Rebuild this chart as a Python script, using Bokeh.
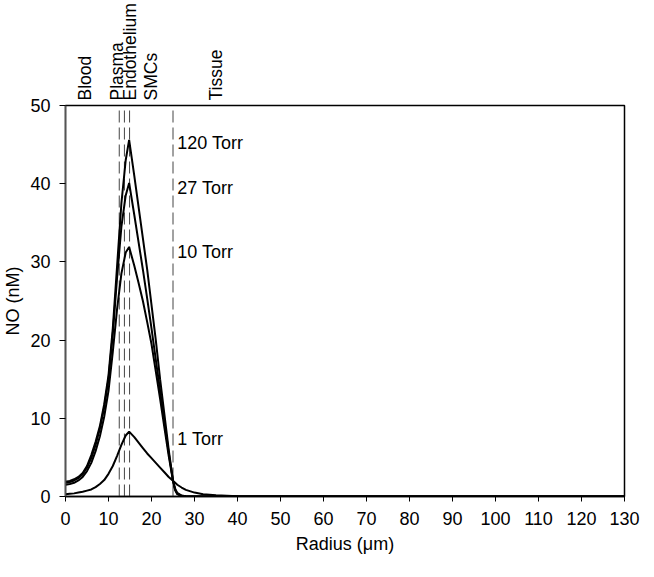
import math
from bokeh.plotting import figure
from bokeh.models import Range1d, FixedTicker, LinearAxis, AllLabels
from bokeh.core.properties import value
from bokeh.embed import file_html
from bokeh.resources import INLINE

# ---- data ----
radius = [0, 1, 2, 3, 4, 5, 6, 7, 8, 9, 10, 11, 12, 13, 14, 14.8,
          16, 17, 18, 19, 20, 21, 22, 23, 24, 25,
          25.5, 26, 27, 28, 30, 32, 35, 40, 45, 130]
no_120 = [1.9, 2.0, 2.2, 2.5, 3.0, 3.9, 5.3, 7.0, 9.0, 11.8, 15.5, 21.5, 29.5, 37.5, 43.0, 45.6,
          41.0, 37.0, 33.0, 29.0, 24.5, 20.0, 15.0, 10.5, 6.0, 2.0,
          0.8, 0.3, 0.05, 0.02, 0, 0, 0, 0, 0, 0]
no_27 = [1.75, 1.85, 2.05, 2.35, 2.85, 3.7, 4.9, 6.6, 8.7, 11.4, 15.0, 20.8, 28.0, 34.5, 38.5, 40.1,
         36.0, 32.5, 29.0, 25.3, 21.5, 17.5, 13.5, 9.5, 5.6, 2.0,
         0.85, 0.35, 0.07, 0.02, 0, 0, 0, 0, 0, 0]
no_10 = [1.5, 1.6, 1.75, 2.05, 2.5, 3.25, 4.3, 5.8, 7.7, 10.2, 13.5, 18.5, 24.0, 28.5, 31.2, 31.9,
         29.5, 27.3, 25.0, 22.3, 19.5, 16.0, 12.5, 8.8, 5.2, 2.0,
         1.0, 0.45, 0.12, 0.03, 0, 0, 0, 0, 0, 0]
no_1 = [0.3, 0.35, 0.4, 0.5, 0.6, 0.75, 0.9, 1.2, 1.6, 2.1, 2.9, 3.9, 5.2, 6.6, 7.8, 8.3,
        7.6, 6.9, 6.2, 5.5, 4.9, 4.3, 3.7, 3.1, 2.5, 2.0,
        1.75, 1.5, 1.15, 0.85, 0.5, 0.3, 0.15, 0.03, 0, 0]
series = [no_120, no_27, no_10, no_1]

curve_labels = ["120 Torr", "27 Torr", "10 Torr", "1 Torr"]
curve_label_x = [26.0, 26.0, 26.0, 26.0]
curve_label_y = [45.2, 39.5, 31.3, 7.4]

boundaries = [12.5, 13.7, 14.9, 25.0]

zone_names = ["Blood", "Plasma", "Endothelium", "SMCs", "Tissue"]
zone_x = [4.6, 12.0, 15.0, 19.9, 35.1]

x_ticks = list(range(0, 131, 10))
y_ticks = list(range(0, 51, 10))

FONT = "Liberation Sans"

p = figure(width=640, height=561, output_backend="svg", toolbar_location=None,
           x_range=Range1d(0, 130), y_range=Range1d(0, 50),
           min_border_left=61, min_border_right=16, min_border_top=104,
           min_border_bottom=65)
p.background_fill_color = "white"
p.border_fill_color = "white"
p.outline_line_color = "black"
p.outline_line_width = 1.5
p.xgrid.visible = False
p.ygrid.visible = False

for ax, ticks in ((p.xaxis, x_ticks), (p.yaxis, y_ticks)):
    ax.ticker = FixedTicker(ticks=ticks)
    ax.minor_tick_line_color = None
    ax.major_tick_in = 0
    ax.major_tick_out = 6
    ax.major_tick_line_color = "black"
    ax.axis_line_color = "black"
    ax.axis_line_width = 1.5
    ax.major_label_text_font = FONT
    ax.major_label_text_font_size = "18px"
    ax.major_label_text_color = "black"
    ax.axis_label_text_font = FONT
    ax.axis_label_text_font_size = "18px"
    ax.axis_label_text_font_style = "normal"
    ax.axis_label_text_color = "black"

p.xaxis.axis_label = "Radius (\u03bcm)"
p.yaxis.axis_label = "NO (nM)"
p.xaxis.major_tick_out = 5
p.xaxis.major_label_standoff = 10
p.xaxis.axis_label_standoff = 6
p.yaxis.major_label_standoff = 9
p.yaxis.axis_label_standoff = 4
p.yaxis.axis_line_color = "#555555"

# zone names as a label-only axis above the frame
zone_axis = LinearAxis(
    ticker=FixedTicker(ticks=zone_x),
    major_label_overrides={zx: name for zx, name in zip(zone_x, zone_names)},
    major_label_orientation=math.pi / 2,
    major_label_policy=AllLabels(),
    major_label_standoff=5,
    major_label_text_font=FONT,
    major_label_text_font_size="17.5px",
    major_label_text_color="black",
    axis_line_color=None,
    major_tick_line_color=None,
    minor_tick_line_color=None,
    major_tick_out=0, major_tick_in=0,
)
p.add_layout(zone_axis, "above")

# dashed boundaries
p.segment(x0=boundaries, y0=[0] * len(boundaries), x1=boundaries,
          y1=[50] * len(boundaries), line_color="#444444", line_width=1,
          line_dash="12 5")

# curves
for s in series:
    p.line(radius, s, line_color="black", line_width=2)

# curve labels
p.text(x=curve_label_x, y=curve_label_y, text=curve_labels,
       text_font=value(FONT), text_font_size="18px", text_color="black",
       text_align="left", text_baseline="middle")

open("out.html", "w").write(file_html(p, INLINE))
